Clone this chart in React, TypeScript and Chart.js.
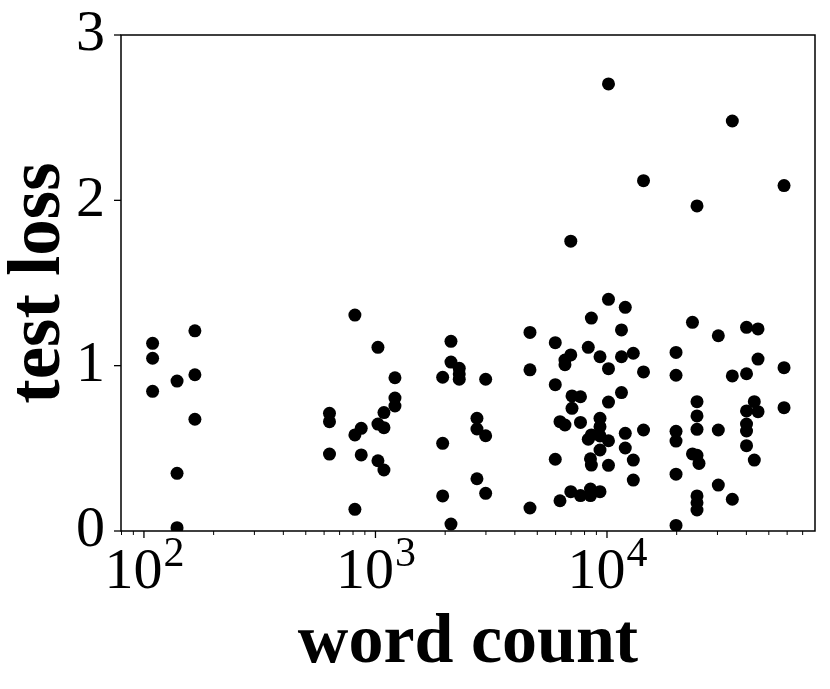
import React, { useEffect, useRef } from "react";
import { Chart, registerables } from "chart.js";

Chart.register(...registerables);

// word count (x) and test loss (y)
const wordCounts: number[] = [
  109, 109, 109, 139, 139, 139, 166, 166, 166,
  633, 633, 633, 815, 815, 815, 868, 868,
  1025, 1025, 1025, 1088, 1088, 1088, 1214, 1214, 1214,
  1951, 1951, 1951, 2119, 2119, 2119, 2301, 2301, 2301,
  2744, 2744, 2744, 2992, 2992, 2992,
  4649, 4649, 4649, 5979, 5979, 5979, 6266, 6266,
  6584, 6584, 6584, 6976, 6976, 6976, 7061, 7061,
  7683, 7683, 7683, 8302, 8486, 8486, 8486, 8560, 8560, 8560, 8302,
  9329, 9329, 9329, 9329, 9329, 9329,
  10150, 10150, 10150, 10150, 10150, 10150,
  11550, 11550, 11550, 11995, 11995, 11995, 12990, 12990, 12990,
  14380, 14380, 14380,
  19870, 19870, 19870, 19870, 19870, 19870,
  23400, 23400, 24480, 24480, 24480, 24480, 24970, 24480, 24480, 24480, 24480,
  30260, 30260, 30260, 34780, 34780, 34780,
  40060, 40060, 40060, 40060, 40060, 40060,
  43280, 43280, 44910, 44910, 44910,
  58170, 58170, 58170,
];

const testLoss: number[] = [
  1.135, 1.045, 0.845, 0.907, 0.349, 0.02, 1.211, 0.945, 0.676,
  0.712, 0.661, 0.465, 1.306, 0.581, 0.131, 0.621, 0.46,
  1.111, 0.647, 0.425, 0.716, 0.625, 0.369, 0.927, 0.804, 0.756,
  0.93, 0.53, 0.212, 1.147, 1.022, 0.042, 0.984, 0.95, 0.918,
  0.682, 0.617, 0.316, 0.918, 0.576, 0.228,
  1.201, 0.975, 0.139, 1.139, 0.885, 0.434, 0.661, 0.183,
  1.034, 1.006, 0.641, 1.753, 1.065, 0.238, 0.817, 0.742,
  0.812, 0.657, 0.214, 1.111, 0.437, 0.254, 0.214, 1.288, 0.581, 0.399, 0.555,
  1.054, 0.682, 0.631, 0.575, 0.49, 0.238,
  2.704, 1.401, 0.982, 0.78, 0.546, 0.397,
  1.216, 1.054, 0.837, 1.353, 0.591, 0.502, 1.075, 0.429, 0.308,
  2.119, 0.962, 0.611,
  1.08, 0.942, 0.603, 0.544, 0.344, 0.034,
  1.262, 0.466, 0.782, 0.696, 0.615, 0.458, 0.409, 0.212, 0.171, 0.127, 1.966,
  1.181, 0.611, 0.278, 2.48, 0.938, 0.192,
  1.232, 0.951, 0.726, 0.647, 0.605, 0.516,
  0.782, 0.429, 1.222, 1.04, 0.722,
  2.089, 0.988, 0.746,
];

const xMin = 79.6;
const xMax = 79150;
const yTicks: number[] = [0, 1, 2, 3];
const xMajorExponents: number[] = [2, 3, 4];
const xTitle = "word count";
const yTitle = "test loss";

const SERIF = '"Liberation Serif", "DejaVu Serif", serif';

const axesPlugin = {
  id: "mplAxes",
  afterDatasetsDraw(chart: any) {
    const { ctx, chartArea, scales } = chart;
    const { left, right, top, bottom } = chartArea;
    const xs = scales.x;
    const ys = scales.y;
    ctx.save();
    ctx.strokeStyle = "#000";
    ctx.lineWidth = 1.5;
    // frame
    ctx.beginPath();
    ctx.rect(left, top, right - left, bottom - top);
    ctx.stroke();
    // y ticks
    ctx.lineWidth = 1.3;
    for (const v of yTicks) {
      const py = ys.getPixelForValue(v);
      ctx.beginPath();
      ctx.moveTo(left, py);
      ctx.lineTo(left - 7, py);
      ctx.stroke();
    }
    // x ticks (major & minor)
    for (let e = 1; e <= 5; e++) {
      for (let m = 1; m <= 9; m++) {
        const v = m * Math.pow(10, e);
        if (v < xMin || v > xMax) continue;
        const px = xs.getPixelForValue(v);
        const len = m === 1 ? 7 : 4;
        ctx.lineWidth = m === 1 ? 1.3 : 1;
        ctx.beginPath();
        ctx.moveTo(px, bottom);
        ctx.lineTo(px, bottom + len);
        ctx.stroke();
      }
    }
    // x tick labels 10^n
    ctx.fillStyle = "#000";
    ctx.textBaseline = "alphabetic";
    ctx.textAlign = "left";
    const baseFont = `58px ${SERIF}`;
    const expFont = `42px ${SERIF}`;
    for (const e of xMajorExponents) {
      const px = xs.getPixelForValue(Math.pow(10, e));
      ctx.font = baseFont;
      const w1 = ctx.measureText("10").width;
      ctx.font = expFont;
      const w2 = ctx.measureText(String(e)).width;
      const x0 = px - (w1 + w2) / 2;
      ctx.font = baseFont;
      ctx.fillText("10", x0, bottom + 57);
      ctx.font = expFont;
      ctx.fillText(String(e), x0 + w1 + 1, bottom + 35);
    }
    ctx.restore();
  },
};

export default function App() {
  const canvasRef = useRef<HTMLCanvasElement | null>(null);

  useEffect(() => {
    if (!canvasRef.current) return;
    const points = wordCounts.map((x, i) => ({ x, y: testLoss[i] }));
    const chart = new Chart(canvasRef.current, {
      type: "scatter",
      data: {
        datasets: [
          {
            data: points,
            backgroundColor: "#000",
            borderColor: "#000",
            borderWidth: 0,
            pointRadius: 6.5,
            pointHoverRadius: 6.5,
            clip: 0,
          } as any,
        ],
      },
      options: {
        animation: false,
        responsive: false,
        maintainAspectRatio: false,
        layout: { padding: { left: 0, top: 35, right: 15, bottom: 0 } },
        plugins: {
          legend: { display: false },
          tooltip: { enabled: false },
        },
        scales: {
          x: {
            type: "logarithmic",
            min: xMin,
            max: xMax,
            grid: { display: false, drawTicks: false },
            border: { display: false },
            ticks: { display: false },
            title: {
              display: true,
              text: xTitle,
              color: "#000",
              font: { family: SERIF, size: 70, weight: "bold", lineHeight: 1 },
              padding: { top: 0, bottom: 10 },
            },
            afterFit: (scale: any) => {
              scale.height = 158;
              scale.paddingLeft = 0;
              scale.paddingRight = 0;
            },
          },
          y: {
            type: "linear",
            min: 0,
            max: 3,
            grid: { display: false, drawTicks: false },
            border: { display: false },
            ticks: {
              stepSize: 1,
              color: "#000",
              padding: 16,
              font: { family: SERIF, size: 58 },
              callback: (v: any) => String(v),
            },
            title: {
              display: true,
              text: yTitle,
              color: "#000",
              font: { family: SERIF, size: 73, weight: "bold", lineHeight: 1 },
              padding: { top: 4, bottom: 0 },
            },
            afterFit: (scale: any) => {
              scale.width = 121;
              scale.paddingTop = 0;
              scale.paddingBottom = 0;
            },
          },
        },
      },
      plugins: [axesPlugin],
    });
    return () => chart.destroy();
  }, []);

  return (
    <div style={{ position: "fixed", left: 0, top: 0, width: 830, height: 689, background: "#fff" }}>
      <canvas ref={canvasRef} width={830} height={689} style={{ width: 830, height: 689 }} />
    </div>
  );
}
